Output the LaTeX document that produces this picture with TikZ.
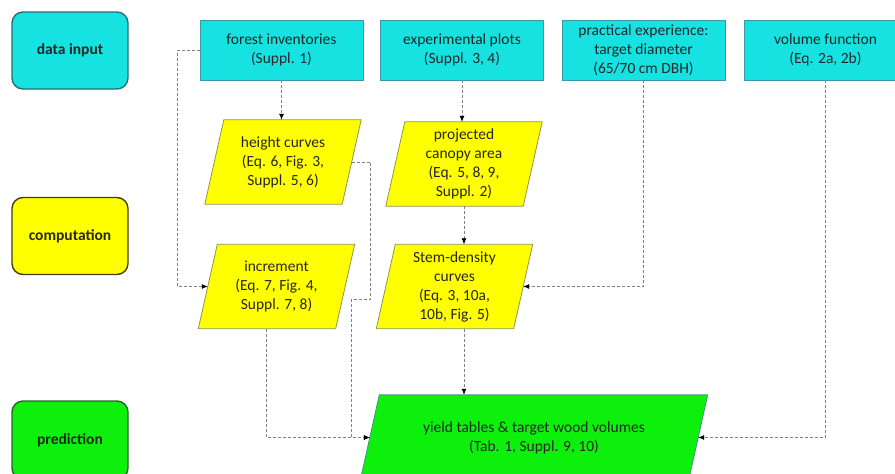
\documentclass[tikz,border=0pt]{standalone}
\usepackage{fontspec}
\setmainfont{Carlito}
\usetikzlibrary{arrows.meta}
\pgfdeclarelayer{background}
\pgfsetlayers{background,main}
\definecolor{inputcyan}{RGB}{22,226,226}
\definecolor{inputedge}{RGB}{60,150,170}
\definecolor{calcyellow}{RGB}{255,255,0}
\definecolor{calcedge}{RGB}{140,150,80}
\definecolor{predgreen}{RGB}{12,240,12}
\definecolor{prededge}{RGB}{60,150,130}
\begin{document}
\begin{tikzpicture}[
    x=1pt, y=-1pt,
    every node/.style={font=\fontsize{15.5}{19}\selectfont, text=black!85, align=center},
    category/.style={draw, rounded corners=11pt, line width=1.4pt,
      minimum width=116pt, minimum height=77pt,
      font=\fontsize{15.5}{19}\selectfont\bfseries},
    inputbox/.style={draw=inputedge, fill=inputcyan, line width=0.8pt,
      minimum width=163pt, minimum height=60pt, inner sep=0pt},
    calcbox/.style={minimum width=137pt, minimum height=84pt, inner sep=0pt},
    slanted/.style={draw=calcedge, fill=calcyellow, line width=0.8pt},
    flow/.style={gray, line width=0.7pt, dash pattern=on 3pt off 2pt,
      -{Latex[length=6pt,width=5pt,color=black]}}
  ]
    \clip (0,0) rectangle (895,474);
    \node[category, fill=inputcyan, draw={rgb,255:red,40;green,110;blue,120}]
      (din) at (70,50.5) {data input};
    \node[category, fill=calcyellow, draw={rgb,255:red,70;green,60;blue,20}]
      (comp) at (70,236) {computation};
    \node[category, fill=predgreen, draw={rgb,255:red,40;green,100;blue,40}, minimum height=78pt]
      (pred) at (70,440) {prediction};
    \node[inputbox] (fi) at (281.5,50) {forest inventories\\(Suppl. 1)};
    \node[inputbox] (ep) at (462,50) {experimental plots\\(Suppl. 3, 4)};
    \node[inputbox] (pe) at (643.5,50)
      {practical experience:\\target diameter\\(65/70 cm DBH)};
    \node[inputbox] (vf) at (825.5,50) {volume function\\(Eq. 2a, 2b)};
    \node[calcbox] (hc) at (283,162) {height curves\\(Eq. 6, Fig. 3,\\Suppl. 5, 6)};
    \node[calcbox] (pc) at (464,164)
      {projected\\canopy area\\(Eq. 5, 8, 9,\\Suppl. 2)};
    \node[calcbox] (inc) at (276.5,286.5)
      {increment\\(Eq. 7, Fig. 4,\\Suppl. 7, 8)};
    \node[calcbox] (sd) at (454.5,286.5)
      {Stem-density\\curves\\(Eq. 3, 10a,\\10b, Fig. 5)};
    \node[calcbox, minimum width=328pt, minimum height=85pt] (yt) at (534,437.5)
      {yield tables \& target wood volumes\\(Tab. 1, Suppl. 9, 10)};
    \begin{pgfonlayer}{background}
      \foreach \n in {hc,pc,inc,sd}
        \draw[slanted] ([xshift=9.5pt]\n.north west) -- ([xshift=9.5pt]\n.north east)
          -- ([xshift=-9.5pt]\n.south east) -- ([xshift=-9.5pt]\n.south west) -- cycle;
      \draw[slanted, fill=predgreen, draw=prededge]
        ([xshift=9.5pt]yt.north west) -- ([xshift=9.5pt]yt.north east)
        -- ([xshift=-9.5pt]yt.south east) -- ([xshift=-9.5pt]yt.south west) -- cycle;
    \end{pgfonlayer}
    \draw[flow] (fi.south) -- (fi.south |- hc.north);
    \draw[flow] (ep.south) -- (ep.south |- pc.north);
    \draw[flow] (pc.south) -- (pc.south |- sd.north);
    \draw[flow] (pc.south |- sd.south) -- (pc.south |- yt.north);
    \draw[flow] (fi.west) -- ++(-22,0) |- (inc.west);
    \draw[flow] (hc.east) -- ++(19,0) -- ++(0,137) -- ++(-19,0) |- (yt.west);
    \draw[flow] ([xshift=-10pt]inc.south) |- (yt.west);
    \draw[flow] (pe.south) |- (sd.east);
    \draw[flow] (vf.south) |- (yt.east);
  \end{tikzpicture}
\end{document}
